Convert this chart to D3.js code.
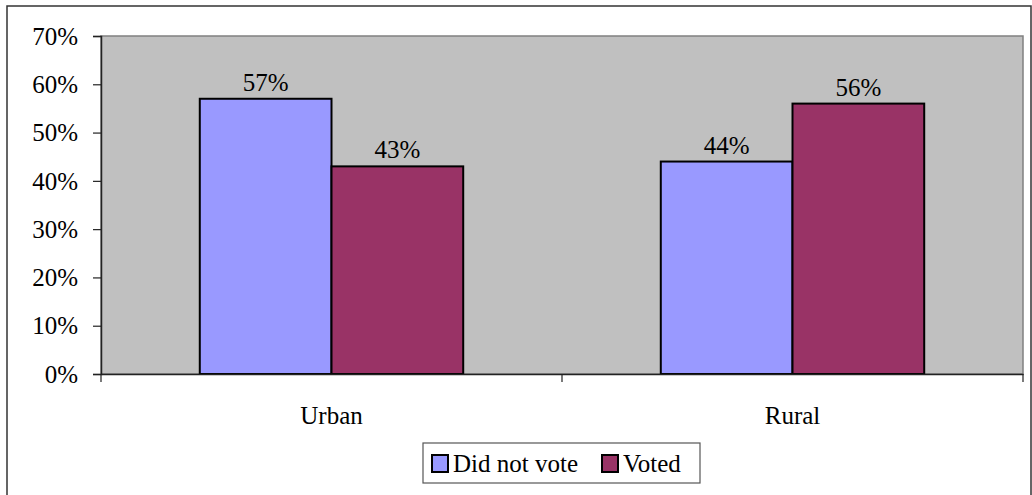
<!DOCTYPE html>
<html><head><meta charset="utf-8">
<script src="https://cdn.jsdelivr.net/npm/d3@7"></script>
<style>svg text{font-family:"Liberation Serif",Tinos,"Times New Roman",serif}</style>
</head><body style="margin:0;background:#fff">
<svg id="c" width="1032" height="495" style="display:block"></svg>
<script>
const categories = ["Urban", "Rural"];
const seriesNames = ["Did not vote", "Voted"];
const didNotVote = [57, 44];
const voted = [43, 56];
const yTicks = [0, 10, 20, 30, 40, 50, 60, 70];
const colors = ["#9999FF", "#993366"];

const FS = 25;
const FF = "Liberation Serif";
const svg = d3.select("#c");
const L = 101, R = 1023, T = 36, B = 374;

function setFont(sel) {
  return sel.attr("font-family", FF).attr("font-size", FS)
    .style("font-family", FF).style("font-size", FS + "px").style("fill", "#000");
}

svg.append("rect").attr("x", 7).attr("y", 6).attr("width", 1024).attr("height", 500)
  .attr("fill", "none").attr("stroke", "#333").attr("stroke-width", 1.5);

const x = d3.scaleBand().domain(categories).range([L, R]).paddingInner(0).paddingOuter(0);
const y = d3.scaleLinear().domain([0, 70]).range([B, T]);

svg.append("rect").attr("x", L).attr("y", T).attr("width", R - L).attr("height", B - T)
  .attr("fill", "#C0C0C0").attr("stroke", "#808080").attr("stroke-width", 1.5);

const data = categories.map((c, i) => ({cat: c, vals: [didNotVote[i], voted[i]]}));
const bw = x.bandwidth() / 3.5;
const g = svg.append("g");
data.forEach(d => {
  d.vals.forEach((v, j) => {
    const bx = x(d.cat) + bw * 0.75 + j * bw;
    g.append("rect").attr("x", bx).attr("y", y(v)).attr("width", bw).attr("height", y(0) - y(v))
      .attr("fill", colors[j]).attr("stroke", "#000").attr("stroke-width", 2);
    setFont(g.append("text").attr("x", bx + bw / 2).attr("y", y(v) - 8).attr("text-anchor", "middle")).text(v + "%");
  });
});

// Y axis
const ya = svg.append("g").attr("transform", `translate(${L},0)`)
  .call(d3.axisLeft(y).tickValues(yTicks).tickFormat(d => d + "%").tickSize(8).tickPadding(15));
ya.attr("font-family", FF).attr("font-size", FS);
ya.select(".domain").attr("stroke", "#222").attr("stroke-width", 1.5);
ya.selectAll(".tick line").attr("stroke", "#222").attr("stroke-width", 1.2);
setFont(ya.selectAll("text")).attr("dy", "0.33em");

// X axis
const xa = svg.append("g").attr("transform", `translate(0,${B})`)
  .call(d3.axisBottom(x).tickSize(0).tickPadding(32));
xa.attr("font-family", FF).attr("font-size", FS);
xa.select(".domain").attr("stroke", "#222").attr("stroke-width", 1.5);
setFont(xa.selectAll("text"));
const bounds = [L, L + x.bandwidth(), R];
svg.selectAll(".xt").data(bounds).enter().append("line")
  .attr("x1", d => d).attr("x2", d => d).attr("y1", B).attr("y2", B + 8)
  .attr("stroke", "#222").attr("stroke-width", 1.2);

// Legend
const lg = svg.append("g");
lg.append("rect").attr("x", 423).attr("y", 443).attr("width", 277).attr("height", 40)
  .attr("fill", "#fff").attr("stroke", "#555").attr("stroke-width", 1.2);
const items = [{n: seriesNames[0], c: colors[0], x: 432}, {n: seriesNames[1], c: colors[1], x: 602}];
items.forEach(it => {
  lg.append("rect").attr("x", it.x).attr("y", 455).attr("width", 16).attr("height", 17)
    .attr("fill", it.c).attr("stroke", "#000").attr("stroke-width", 2);
  setFont(lg.append("text").attr("x", it.x + 21).attr("y", 472)).text(it.n);
});

if (document.fonts && document.fonts.load) {
  document.fonts.load(FS + 'px "Liberation Serif"').then(() => {
    svg.selectAll("text").style("font-family", FF);
  });
}
</script></body></html>
